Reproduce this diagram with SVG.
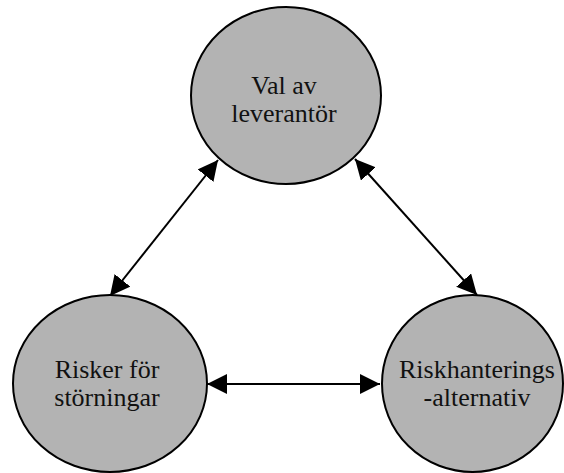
<svg xmlns="http://www.w3.org/2000/svg" width="564" height="473" viewBox="0 0 564 473">
  <style>
    .node { fill: #b3b3b3; stroke: #000; stroke-width: 2; }
    .label { font-family: 'Liberation Serif', serif; font-size: 26px; fill: #111; text-anchor: middle; }
    .link { stroke: #000; stroke-width: 2; fill: none; marker-start: url(#head); marker-end: url(#head); }
  </style>
  <defs>
    <marker id="head" markerUnits="userSpaceOnUse" markerWidth="20" markerHeight="20" refX="20" refY="10" orient="auto-start-reverse" viewBox="0 0 20 20">
      <path d="M0,0 L20,10 L0,20 z" fill="#000"/>
    </marker>
  </defs>
  <rect width="564" height="473" fill="#fff"/>

  <g id="connectors">
    <line class="link" x1="218" y1="160" x2="110" y2="296"/>
    <line class="link" x1="355" y1="159" x2="477" y2="295"/>
    <line class="link" x1="207" y1="384" x2="380" y2="384"/>
  </g>

  <g id="val-av-leverantor">
    <ellipse class="node" cx="286" cy="95.5" rx="95" ry="88.5"/>
    <text class="label" x="284" y="94">Val av</text>
    <text class="label" x="284" y="122">leverantör</text>
  </g>

  <g id="risker-for-storningar">
    <ellipse class="node" cx="110" cy="383.5" rx="97" ry="88.5"/>
    <text class="label" x="107" y="378">Risker för</text>
    <text class="label" x="107" y="406">störningar</text>
  </g>

  <g id="riskhanteringsalternativ">
    <ellipse class="node" cx="472.5" cy="383.5" rx="90.5" ry="88.5"/>
    <text class="label" x="477" y="378">Riskhanterings</text>
    <text class="label" x="477" y="406">-alternativ</text>
  </g>
</svg>
